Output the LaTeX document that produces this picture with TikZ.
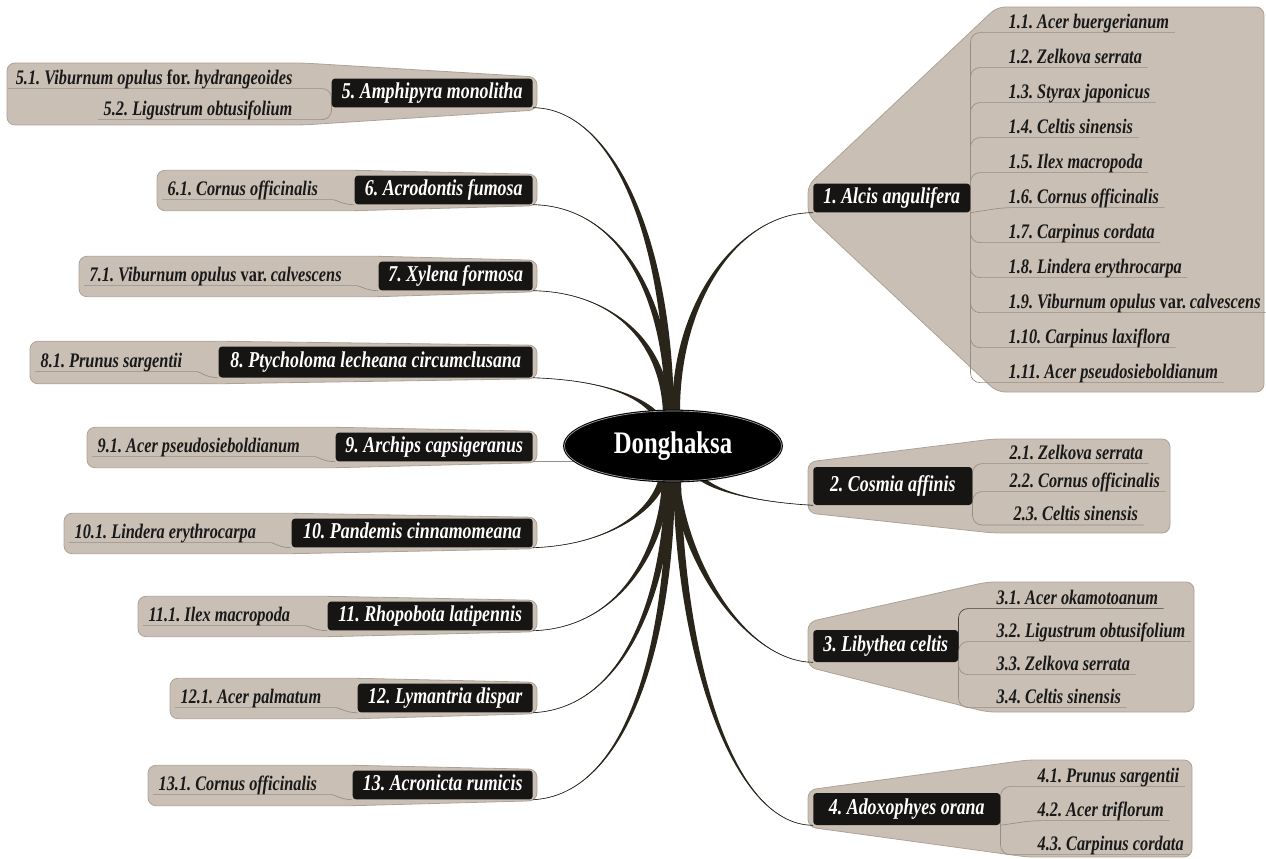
\documentclass[tikz,border=0pt]{standalone}
\usepackage{fontspec}
\setmainfont{Liberation Serif}
\newfontfamily\narrowserif[FakeStretch=0.79]{Liberation Serif}
\usepackage{xcolor}
\usepackage{tikz}
\usetikzlibrary{shapes.geometric,positioning,calc,backgrounds}
\frenchspacing

\definecolor{pillcol}{RGB}{201,191,181}
\definecolor{pilledge}{RGB}{172,162,152}
\definecolor{boxcol}{RGB}{22,21,20}
\definecolor{branchcol}{RGB}{42,37,27}
\definecolor{twigcol}{RGB}{150,142,134}

% tapered branch: start, control near start, control near end, end
\newcommand{\mothlink}[4]{%
  \fill[branchcol] ($(#1)+(-4,0)$) .. controls ($(#2)+(-4,0)$) and (#3) .. (#4)
    .. controls (#3) and ($(#2)+(4,0)$) .. ($(#1)+(4,0)$) -- cycle;
  \draw[branchcol, line width=0.5pt] (#1) .. controls (#2) and (#3) .. (#4);}

% grey band behind a left moth box and its plant
\newcommand{\lpill}[2]{%
  \draw[pill] ($(#1.west |- #2.north)+(-5,-5)$) -- ($(#2.north west)+(0,-5)$) -- ($(#2.north east)+(4,-1)$)
    -- ($(#2.south east)+(4,1)$) -- ($(#2.south west)+(0,6)$) -- ($(#1.west |- #2.south)+(-5,6)$) -- cycle;}

\begin{document}
\begin{tikzpicture}[x=0.75pt, y=-0.75pt,
    moth/.style={rectangle, fill=boxcol, text=white, rounded corners=2.5pt, inner xsep=4pt, minimum height=19.5pt, text height=11.5pt, text depth=3.5pt, font=\narrowserif\bfseries\itshape\fontsize{17}{19}\selectfont},
    plant/.style={inner xsep=4pt, inner ysep=0pt, text height=11pt, text depth=3pt, text=black!90, font=\narrowserif\bfseries\itshape\fontsize{15.5}{17}\selectfont},
    pill/.style={fill=pillcol, draw=pilledge, line width=0.6pt, rounded corners=6pt},
    twig/.style={draw=twigcol, line width=0.5pt, rounded corners=7pt}]
    \useasboundingbox (0,0) rectangle (1266,859);

    % Centre
    \node (hub) [ellipse, fill=black, draw=black, double=gray!70, double distance=0.5pt, line width=0.8pt, minimum width=162.75pt, minimum height=52.5pt, text=white, font=\narrowserif\bfseries\fontsize{23.5}{26}\selectfont] at (673,446) {Donghaksa};

    % Moths, right side
    \node (m1) [moth, anchor=west, minimum width=117.75pt] at (813,198) {1. Alcis angulifera};
    \node (m2) [moth, anchor=west, minimum width=119.25pt, minimum height=28.5pt] at (813,486) {2. Cosmia affinis};
    \node (m3) [moth, anchor=west, minimum width=108.75pt, minimum height=24pt] at (813,646) {3. Libythea celtis};
    \node (m4) [moth, anchor=west, minimum width=140.25pt, minimum height=24pt] at (813,809) {4. Adoxophyes orana};

    % Moths, left side
    \node (m5) [moth, anchor=east, minimum width=150.75pt] at (533,93) {5. Amphipyra monolitha};
    \node (m6) [moth, anchor=east, minimum width=133.5pt] at (533,190) {6. Acrodontis fumosa};
    \node (m7) [moth, anchor=east, minimum width=115.5pt] at (533,276) {7. Xylena formosa};
    \node (m8) [moth, anchor=east, minimum width=235.5pt, minimum height=23.25pt] at (533,362) {8. Ptycholoma lecheana circumclusana};
    \node (m9) [moth, anchor=east, minimum width=147.75pt] at (533,447) {9. Archips capsigeranus};
    \node (m10) [moth, anchor=east, minimum width=180.75pt] at (533,533) {10. Pandemis cinnamomeana};
    \node (m11) [moth, anchor=east, minimum width=153.75pt] at (533,616) {11. Rhopobota latipennis};
    \node (m12) [moth, anchor=east, minimum width=131.25pt] at (533,698) {12. Lymantria dispar};
    \node (m13) [moth, anchor=east, minimum width=135pt] at (533,785) {13. Acronicta rumicis};

    % Plants of 1
    \node (c11) [plant, anchor=west] at (1003,23) {1.1. Acer buergerianum};
    \node (c12) [plant, below=26.25pt of c11.west, anchor=west] {1.2. Zelkova serrata};
    \node (c13) [plant, below=26.25pt of c12.west, anchor=west] {1.3. Styrax japonicus};
    \node (c14) [plant, below=26.25pt of c13.west, anchor=west] {1.4. Celtis sinensis};
    \node (c15) [plant, below=26.25pt of c14.west, anchor=west] {1.5. Ilex macropoda};
    \node (c16) [plant, below=26.25pt of c15.west, anchor=west] {1.6. Cornus officinalis};
    \node (c17) [plant, below=26.25pt of c16.west, anchor=west] {1.7. Carpinus cordata};
    \node (c18) [plant, below=26.25pt of c17.west, anchor=west] {1.8. Lindera erythrocarpa};
    \node (c19) [plant, below=26.25pt of c18.west, anchor=west] {1.9. Viburnum opulus {\upshape var.} calvescens};
    \node (c110) [plant, below=26.25pt of c19.west, anchor=west] {1.10. Carpinus laxiflora};
    \node (c111) [plant, below=26.25pt of c110.west, anchor=west] {1.11. Acer pseudosieboldianum};

    % Plants of 2, 3, 4
    \node (c21) [plant, anchor=west] at (1004,454) {2.1. Zelkova serrata};
    \node (c22) [plant, below=21pt of c21.west, anchor=west] {2.2. Cornus officinalis};
    \node (c23) [plant, below=25pt of c22.west, anchor=west, xshift=3pt] {2.3. Celtis sinensis};
    \node (c31) [plant, anchor=west] at (991,599) {3.1. Acer okamotoanum};
    \node (c32) [plant, below=24.75pt of c31.west, anchor=west] {3.2. Ligustrum obtusifolium};
    \node (c33) [plant, below=24.75pt of c32.west, anchor=west] {3.3. Zelkova serrata};
    \node (c34) [plant, below=24.75pt of c33.west, anchor=west] {3.4. Celtis sinensis};
    \node (c41) [plant, anchor=west] at (1032,777) {4.1. Prunus sargentii};
    \node (c42) [plant, below=25.5pt of c41.west, anchor=west] {4.2. Acer triflorum};
    \node (c43) [plant, below=25.5pt of c42.west, anchor=west] {4.3. Carpinus cordata};

    % Plants of 5 to 13
    \node (c51) [plant, anchor=east] at (298,79) {5.1. Viburnum opulus {\upshape for.} hydrangeoides};
    \node (c52) [plant, anchor=east] at (298,110) {5.2. Ligustrum obtusifolium};
    \node (c61) [plant, anchor=west] at (162,190) {6.1. Cornus officinalis};
    \node (c71) [plant, anchor=west] at (84,276) {7.1. Viburnum opulus {\upshape var.} calvescens};
    \node (c81) [plant, anchor=west] at (35,362) {8.1. Prunus sargentii};
    \node (c91) [plant, anchor=west] at (92,447) {9.1. Acer pseudosieboldianum};
    \node (c101) [plant, anchor=west] at (69,533) {10.1. Lindera erythrocarpa};
    \node (c111b) [plant, anchor=west] at (143,616) {11.1. Ilex macropoda};
    \node (c121) [plant, anchor=west] at (175,698) {12.1. Acer palmatum};
    \node (c131) [plant, anchor=west] at (153,785) {13.1. Cornus officinalis};

    \begin{scope}[on background layer]
        % Bands
        \draw[pill] (808,185) -- (997,7) -- (1264,7) -- (1264,392) -- (997,392) -- (808,215) -- cycle;
        \draw[pill] (808,462) -- (993,439) -- (1170,439) -- (1170,533) -- (993,533) -- (808,513) -- cycle;
        \draw[pill] (808,622) -- (987,582) -- (1194,582) -- (1194,712) -- (987,712) -- (808,667) -- cycle;
        \draw[pill] (808,790) -- (1027,760) -- (1192,760) -- (1192,857) -- (1027,857) -- (808,827) -- cycle;
        \draw[pill] (7,63) -- (303,63) -- (537,77) -- (537,110) -- (303,125) -- (7,125) -- cycle;
        \lpill{c61}{m6}
        \lpill{c71}{m7}
        \lpill{c81}{m8}
        \lpill{c91}{m9}
        \lpill{c101}{m10}
        \lpill{c111b}{m11}
        \lpill{c121}{m12}
        \lpill{c131}{m13}

        % Twigs
        \draw[twig] (m1.south east) |- (c11.south west) -- (c11.south east);
        \draw[twig] (m1.south east) |- (c12.south west) -- (c12.south east);
        \draw[twig] (m1.south east) |- (c13.south west) -- (c13.south east);
        \draw[twig] (m1.south east) |- (c14.south west) -- (c14.south east);
        \draw[twig] (m1.south east) |- (c15.south west) -- (c15.south east);
        \draw[twig] (m1.south east) -- (c16.south west) -- (c16.south east);
        \draw[twig] (m1.south east) |- (c17.south west) -- (c17.south east);
        \draw[twig] (m1.south east) |- (c18.south west) -- (c18.south east);
        \draw[twig] (m1.south east) |- (c19.south west) -- (c19.south east);
        \draw[twig] (m1.south east) |- (c110.south west) -- (c110.south east);
        \draw[twig] (m1.south east) |- (c111.south west) -- (c111.south east);
        \draw[twig] (m2.south east) |- (c21.south west) -- (c21.south east);
        \draw[twig] (m2.south east) |- (c22.south west) -- (c22.south east);
        \draw[twig] (m2.south east) |- (c23.south west) -- (c23.south east);
        \draw[twig, draw=black!75] (m3.south east) |- (c31.south west) -- (c31.south east);
        \draw[twig] (m3.south east) |- (c32.south west) -- (c32.south east);
        \draw[twig] (m3.south east) |- (c33.south west) -- (c33.south east);
        \draw[twig] (m3.south east) |- (c34.south west) -- (c34.south east);
        \draw[twig] (m4.south east) |- (c41.south west) -- (c41.south east);
        \draw[twig] (m4.south east) -- (c42.south west) -- (c42.south east);
        \draw[twig] (m4.south east) |- (c43.south west) -- (c43.south east);
        \draw[twig] (m5.south west) |- (c51.south east) -- ($(c51.south west)+(-2,0)$);
        \draw[twig] (m5.south west) |- (c52.south east) -- (c52.south west);
        \draw[twig] (m6.south west) to[out=180, in=0] (c61.south east) -- (c61.south west);
        \draw[twig] (m7.south west) to[out=180, in=0] (c71.south east) -- (c71.south west);
        \draw[twig] (m8.south west) to[out=180, in=0] (c81.south east) -- (c81.south west);
        \draw[twig] (m9.south west) to[out=180, in=0] (c91.south east) -- (c91.south west);
        \draw[twig] (m10.south west) to[out=180, in=0] (c101.south east) -- (c101.south west);
        \draw[twig] (m11.south west) to[out=180, in=0] (c111b.south east) -- (c111b.south west);
        \draw[twig] (m12.south west) to[out=180, in=0] (c121.south east) -- (c121.south west);
        \draw[twig] (m13.south west) to[out=180, in=0] (c131.south east) -- (c131.south west);

        % Branches
        \coordinate (s1) at ($(hub.north)+(3,4)$);
        \coordinate (s5) at ($(hub.north)+(-3,4)$);
        \coordinate (s6) at ($(hub.north)+(-4,4)$);
        \coordinate (s7) at ($(hub.north)+(-6,4)$);
        \coordinate (s8) at ($(hub.north)+(-16,5)$);
        \coordinate (s2) at ($(hub.south)+(27,-4)$);
        \coordinate (s3) at ($(hub.south)+(2,-4)$);
        \coordinate (s4) at ($(hub.south)+(4,-4)$);
        \coordinate (s10) at ($(hub.south)+(-10,-4)$);
        \coordinate (s11) at ($(hub.south)+(-7,-4)$);
        \coordinate (s12) at ($(hub.south)+(-4,-4)$);
        \coordinate (s13) at ($(hub.south)+(-2,-4)$);
        \mothlink{s1}{675,300}{740,212}{m1.south west}
        \mothlink{s2}{720,495}{770,503}{m2.south west}
        \mothlink{s3}{685,570}{750,662}{m3.south west}
        \mothlink{s4}{680,650}{730,825}{m4.south west}
        \mothlink{s5}{668,230}{610,108}{m5.south east}
        \mothlink{s6}{670,300}{620,206}{m6.south east}
        \mothlink{s7}{665,340}{610,292}{m7.south east}
        \mothlink{s8}{640,395}{600,380}{m8.south east}
        \draw[twig] (m9.south east) -- (m9.south east -| hub.center);
        \mothlink{s10}{655,510}{610,545}{m10.south east}
        \mothlink{s11}{665,540}{625,628}{m11.south east}
        \mothlink{s12}{668,580}{630,708}{m12.south east}
        \mothlink{s13}{670,650}{625,795}{m13.south east}
    \end{scope}
\end{tikzpicture}
\end{document}
